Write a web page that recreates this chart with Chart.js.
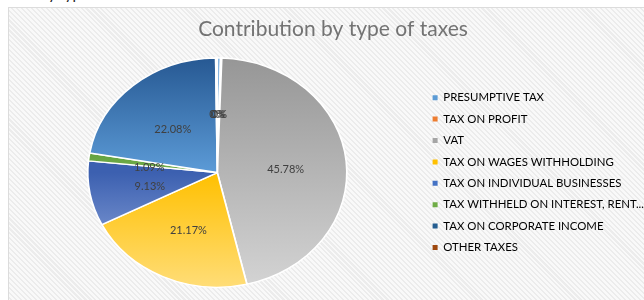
<!DOCTYPE html>
<html>
<head>
<meta charset="utf-8">
<script src="https://cdn.jsdelivr.net/npm/chart.js@4.4.1/dist/chart.umd.min.js"></script>
<style>
  html, body { margin: 0; padding: 0; background: #fff; }
  #wrap { position: relative; width: 644px; height: 300px; overflow: hidden; }
  #cut { position: absolute; left: 40px; top: -16px; font: 15px Lato, sans-serif; color: #222; }
  #panel {
    position: absolute; left: 8px; top: 7px; width: 660px; height: 320px;
    border: 1px solid #dcdcdc;
    background: repeating-linear-gradient(45deg, #ececec 0 1.5px, #f9f9f9 1.5px 3.5px);
  }
  #c { position: absolute; left: 0; top: 0; }
</style>
</head>
<body>
<div id="wrap">
  <div id="cut">by type</div>
  <div id="panel"></div>
  <canvas id="c" width="644" height="300"></canvas>
</div>
<script>
// Tax types and their share (%)
const taxTypes = [
  "PRESUMPTIVE TAX",
  "TAX ON PROFIT",
  "VAT",
  "TAX ON WAGES WITHHOLDING",
  "TAX ON INDIVIDUAL BUSINESSES",
  "TAX WITHHELD ON INTEREST, RENT...",
  "TAX ON CORPORATE INCOME",
  "OTHER TAXES"
];
const shares = [0.40, 0.15, 45.78, 21.17, 9.13, 1.09, 22.08, 0.20];

// legend colours and gradient stops [position, colour]
const legendColors = ["#5b9bd5", "#ed7d31", "#a5a5a5", "#ffc000", "#4472c4", "#70ad47", "#255e91", "#9e480e"];
const sliceStops = [
  [[0, "#5b9bd5"], [1, "#5b9bd5"]],
  [[0, "#ed7d31"], [1, "#ed7d31"]],
  [[0, "#969696"], [1, "#d4d4d4"]],
  [[0.5, "#ffc000"], [1, "#ffdd78"]],
  [[0.5, "#3c60b0"], [1, "#a0b6e6"]],
  [[0.4, "#5f9e3a"], [0.6, "#8bc265"]],
  [[0, "#265892"], [0.5, "#5c9bd7"]],
  [[0, "#9e480e"], [1, "#9e480e"]]
];

const stretchX = 1.13;

function sliceFill(ctx) {
  const chart = ctx.chart;
  const area = chart.chartArea;
  if (!area) return legendColors[ctx.dataIndex];
  const g = chart.ctx.createLinearGradient(0, area.top, 0, area.bottom);
  sliceStops[ctx.dataIndex].forEach(s => g.addColorStop(s[0], s[1]));
  return g;
}

const stretchPlugin = {
  id: "stretch",
  beforeDatasetsDraw(chart) {
    const a = chart.chartArea;
    const cx = (a.left + a.right) / 2;
    const ctx = chart.ctx;
    ctx.save();
    ctx.translate(cx, 0);
    ctx.scale(stretchX, 1);
    ctx.translate(-cx, 0);
  },
  afterDatasetsDraw(chart) {
    const ctx = chart.ctx;
    ctx.restore();
    // percentage labels
    const meta = chart.getDatasetMeta(0);
    ctx.save();
    ctx.font = "11px Lato, sans-serif";
    ctx.fillStyle = "#404040";
    ctx.textAlign = "center";
    ctx.textBaseline = "middle";
    meta.data.forEach((arc, i) => {
      const mid = (arc.startAngle + arc.endAngle) / 2;
      const r = arc.outerRadius * 0.53;
      const x = arc.x + Math.cos(mid) * r * stretchX;
      const y = arc.y + Math.sin(mid) * r + 3;
      const v = shares[i];
      const txt = v < 0.5 ? "0%" : v.toFixed(2) + "%";
      ctx.fillText(txt, x, y);
    });
    ctx.restore();
  }
};

new Chart(document.getElementById("c"), {
  type: "pie",
  data: {
    labels: taxTypes,
    datasets: [{
      data: shares,
      backgroundColor: sliceFill,
      borderColor: "#ffffff",
      borderWidth: 1.5
    }]
  },
  options: {
    responsive: false,
    animation: false,
    layout: { padding: { left: 12, right: -10, top: 17, bottom: 12 } },
    plugins: {
      title: {
        display: true,
        text: "Contribution by type of taxes",
        color: "#737373",
        font: { family: "Lato", size: 21, weight: "normal" },
        padding: { top: 0, bottom: 15 }
      },
      legend: {
        position: "right",
        align: "center",
        fullSize: false,
        labels: {
          boxWidth: 5,
          boxHeight: 5,
          padding: 10,
          color: "#595959",
          font: { family: "Lato", size: 11.4 },
          generateLabels: () => taxTypes.map((t, i) => ({
            text: t,
            fillStyle: legendColors[i],
            strokeStyle: legendColors[i],
            lineWidth: 0,
            index: i
          }))
        }
      },
      tooltip: { enabled: false }
    }
  },
  plugins: [stretchPlugin]
});
</script>
</body>
</html>
